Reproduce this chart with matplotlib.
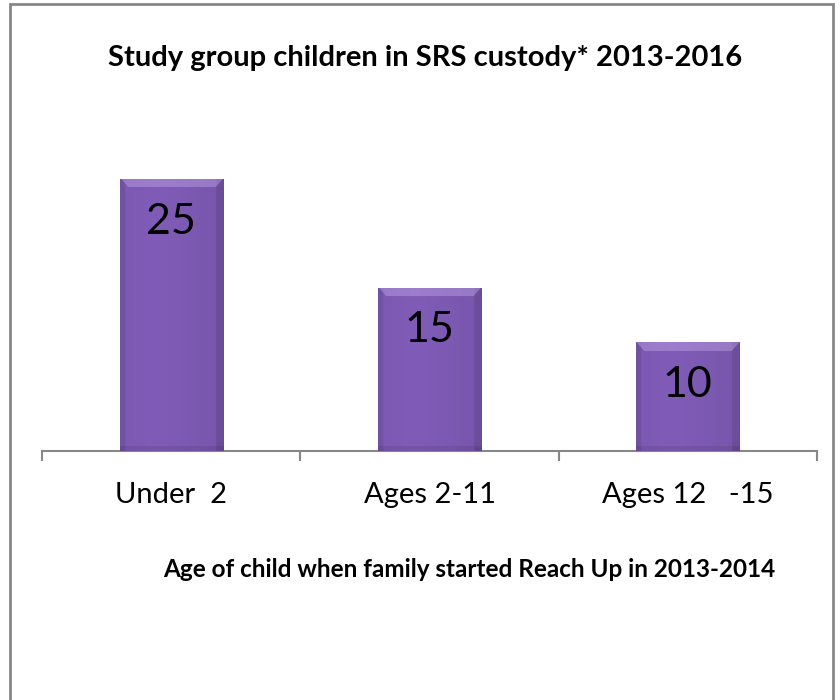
import numpy as np
import matplotlib.pyplot as plt
from matplotlib.patches import Rectangle
from matplotlib.transforms import blended_transform_factory

# age groups and number of children in custody
categories = ['Under  2', 'Ages 2-11', 'Ages 12   -15']
counts = [25, 15, 10]

title = 'Study group children in SRS custody* 2013-2016'
xlabel = 'Age of child when family started Reach Up in 2013-2014'

plt.rcParams['font.family'] = ['Lato', 'DejaVu Sans']

BASE = np.array([0x80, 0x5c, 0xb8]) / 255.0
GRAY = '#878787'


def bar_shading(height_units, px_per_unit, ncols=120):
    # bevelled purple fill: light top edge, darker sides and bottom
    nrows = max(int(height_units * px_per_unit), 10)
    u = np.linspace(0, 1, ncols)[None, :]
    v = np.linspace(1, 0, nrows)[:, None]  # row 0 is the top
    px_from_top = (1 - v) * nrows
    px_from_bot = v * nrows
    shade = 1.0 - 0.10 * np.abs(u - 0.35) - 0.10 * (u > 0.93) - 0.08 * (u < 0.05)
    shade = shade * np.ones_like(v)
    shade = shade - 0.08 * (px_from_bot < 5)
    rgb = BASE[None, None, :] * shade[:, :, None]
    # top bevel with slanted corners
    edge = np.minimum(u, 1 - u) * 103
    top = ((px_from_top < 9) & (edge > px_from_top * 0.9))[:, :, None] * 1.0
    rgb = rgb * (1 - 0.4 * top) + np.array([0.78, 0.68, 0.92]) * 0.4 * top
    return np.clip(rgb, 0, 1)


fig = plt.figure(figsize=(8.4, 7.0), dpi=100)
ax = fig.add_axes([42 / 840, 249 / 700, 775 / 840, 327 / 700])

x = np.arange(len(categories))
bars = ax.bar(x, counts, width=0.4, color=BASE, zorder=2)

ymax = 30
px_per_unit = 327 / ymax
for b in bars:
    img = bar_shading(b.get_height(), px_per_unit)
    im = ax.imshow(img, extent=(b.get_x(), b.get_x() + b.get_width(), 0, b.get_height()),
                   aspect='auto', zorder=3, interpolation='bilinear')
    im.set_clip_path(b)

for xi, c in zip(x, counts):
    ax.annotate(str(c), xy=(xi, c), xytext=(0, -39.6), textcoords='offset points',
                ha='center', va='baseline', fontsize=31, color='black', zorder=4)

ax.set_xlim(-0.5, len(categories) - 0.5)
ax.set_ylim(0, ymax)

for side in ['top', 'right', 'left']:
    ax.spines[side].set_visible(False)
ax.spines['bottom'].set_color(GRAY)
ax.spines['bottom'].set_linewidth(1.5)
ax.set_yticks([])

ax.set_xticks([])
ax.set_xticks(np.arange(len(categories) + 1) - 0.5, minor=True)
ax.tick_params(axis='x', which='minor', length=7.5, width=1.5, color=GRAY, labelbottom=False)

trans = blended_transform_factory(ax.transData, ax.transAxes)
for xi, label in zip(x, categories):
    ax.text(xi, -52 / 327, label, transform=trans, ha='center', va='baseline',
            fontsize=21, color='black')

fig.text(425 / 840, 1 - 66 / 700, title, ha='center', va='baseline',
         fontsize=21, fontweight='bold')
fig.text(469 / 840, 1 - 577 / 700, xlabel, ha='center', va='baseline',
         fontsize=17.5, fontweight='bold')

# chart frame
fig.patches.append(Rectangle((10 / 840, -0.05), 823 / 840, 1.05 - 4 / 700,
                             transform=fig.transFigure, fill=False,
                             edgecolor=GRAY, linewidth=2))

fig.savefig('out.png', dpi=100)
